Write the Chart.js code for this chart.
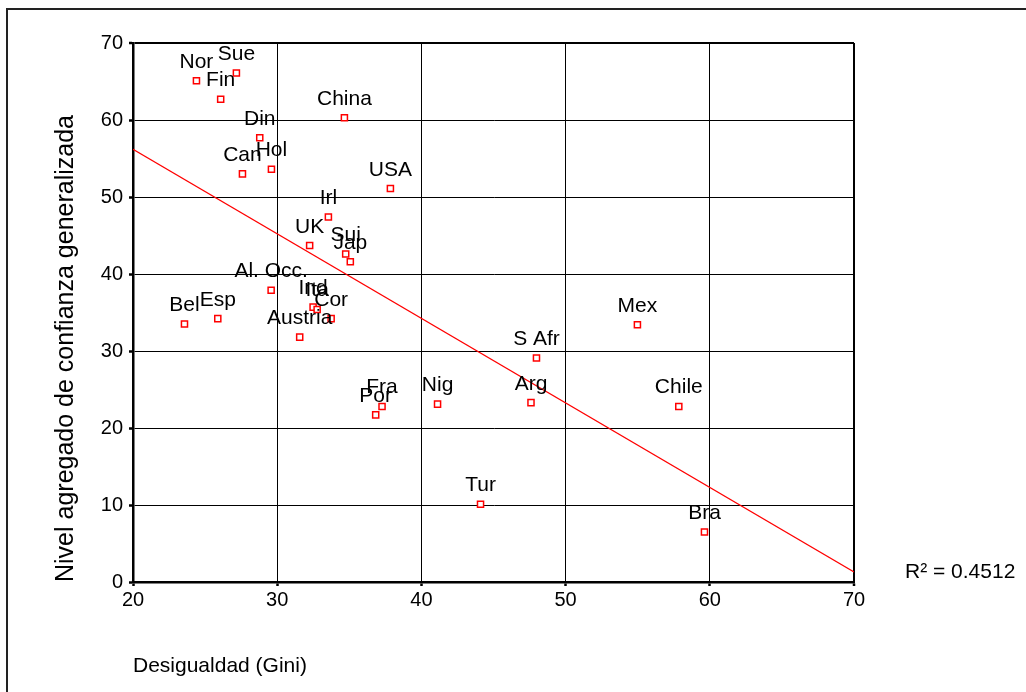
<!DOCTYPE html>
<html>
<head>
<meta charset="utf-8">
<script src="https://cdn.jsdelivr.net/npm/chart.js@4.4.1/dist/chart.umd.min.js"></script>
<style>
  html, body { margin: 0; padding: 0; background: #fff; overflow: hidden; }
  #wrap { position: relative; width: 1026px; height: 692px; }
  #frame { position: absolute; left: 6px; top: 8px; width: 1100px; height: 800px; border: 2px solid #222; }
  #chart-box { position: absolute; left: 0; top: 0; width: 1026px; height: 692px; }
</style>
</head>
<body>
<div id="wrap">
  <div id="frame"></div>
  <div id="chart-box"><canvas id="scatterChart"></canvas></div>
</div>
<script>
// country labels, Gini (x) and trust level (y)
const countries = ['Nor', 'Sue', 'Fin', 'Din', 'China', 'Can', 'Hol', 'USA', 'Irl', 'UK', 'Sui', 'Jap',
  'Al. Occ.', 'Esp', 'Bel', 'Ind', 'Ita', 'Cor', 'Austria', 'Fra', 'Por', 'Nig', 'S Afr', 'Arg',
  'Mex', 'Chile', 'Tur', 'Bra'];
const giniValues = [24.40, 27.17, 26.08, 28.79, 34.66, 27.59, 29.60, 37.85, 33.55, 32.25, 34.75, 35.07,
  29.58, 25.88, 23.57, 32.49, 32.77, 33.74, 31.56, 37.27, 36.83, 41.12, 47.98, 47.60,
  54.98, 57.85, 44.10, 59.63];
const trustValues = [65.1, 66.1, 62.7, 57.7, 60.3, 53.0, 53.6, 51.1, 47.4, 43.7, 42.6, 41.6,
  37.9, 34.2, 33.5, 35.7, 35.4, 34.2, 31.8, 22.8, 21.7, 23.1, 29.1, 23.3,
  33.4, 22.8, 10.1, 6.5];

// fit line end points
const fitX = [20, 70];
const fitY = [56.2, 1.3];
const r2Label = 'R\u00B2 = 0.4512';

const xTicks = [20, 30, 40, 50, 60, 70];
const yTicks = [0, 10, 20, 30, 40, 50, 60, 70];

const FONT = "'Liberation Sans', Arial, sans-serif";

const pointLabels = {
  id: 'pointLabels',
  afterDatasetsDraw(chart) {
    const ctx = chart.ctx;
    const meta = chart.getDatasetMeta(1);
    ctx.save();
    ctx.font = '21px ' + FONT;
    ctx.fillStyle = '#000';
    ctx.textAlign = 'center';
    ctx.textBaseline = 'alphabetic';
    meta.data.forEach((pt, i) => {
      ctx.fillText(countries[i], pt.x, pt.y - 13);
    });
    // R² note to the right of the plot
    const area = chart.chartArea;
    ctx.textAlign = 'left';
    ctx.fillText(r2Label, area.right + 51, area.bottom - 4);
    ctx.restore();
  }
};

const ctx = document.getElementById('scatterChart').getContext('2d');
new Chart(ctx, {
  type: 'scatter',
  data: {
    datasets: [
      {
        type: 'line',
        label: 'fit',
        data: fitX.map((x, i) => ({ x: x, y: fitY[i] })),
        borderColor: '#ff0000',
        borderWidth: 1.2,
        pointRadius: 0,
        fill: false,
        order: 2
      },
      {
        label: 'paises',
        data: giniValues.map((x, i) => ({ x: x, y: trustValues[i] })),
        pointStyle: 'rect',
        pointRadius: 4.3,
        pointBorderWidth: 1.5,
        borderColor: '#ff0000',
        backgroundColor: '#ffffff',
        order: 1
      }
    ]
  },
  options: {
    responsive: true,
    maintainAspectRatio: false,
    animation: false,
    layout: {
      padding: { left: 0, top: 43, right: 172, bottom: 0 }
    },
    plugins: {
      legend: { display: false },
      tooltip: { enabled: false }
    },
    scales: {
      x: {
        type: 'linear',
        min: 20,
        max: 70,
        afterBuildTicks: (scale) => { scale.ticks = xTicks.map(v => ({ value: v })); },
        afterFit: (scale) => { scale.height = 110; },
        ticks: {
          color: '#000',
          padding: 2,
          font: { family: FONT, size: 20 }
        },
        grid: {
          color: '#000',
          lineWidth: (c) => (c.tick && c.tick.value === 70 ? 2 : 1),
          tickLength: 4,
          tickWidth: 2.5,
          tickColor: '#000'
        },
        border: { color: '#000', width: 2.5 },
        title: {
          display: true,
          text: 'Desigualdad (Gini)',
          align: 'start',
          color: '#000',
          padding: { top: 0, bottom: 13 },
          font: { family: FONT, size: 21 }
        }
      },
      y: {
        type: 'linear',
        min: 0,
        max: 70,
        afterBuildTicks: (scale) => { scale.ticks = yTicks.map(v => ({ value: v })); },
        afterFit: (scale) => { scale.width = 133; },
        ticks: {
          color: '#000',
          padding: 6,
          font: { family: FONT, size: 20 }
        },
        grid: {
          color: '#000',
          lineWidth: (c) => (c.tick && c.tick.value === 70 ? 2 : 1),
          tickLength: 4,
          tickWidth: 2.5,
          tickColor: '#000'
        },
        border: { color: '#000', width: 2.5 },
        title: {
          display: true,
          text: 'Nivel agregado de confianza generalizada',
          align: 'start',
          color: '#000',
          padding: { top: 51, bottom: 0 },
          font: { family: FONT, size: 25 }
        }
      }
    }
  },
  plugins: [pointLabels]
});
</script>
</body>
</html>
